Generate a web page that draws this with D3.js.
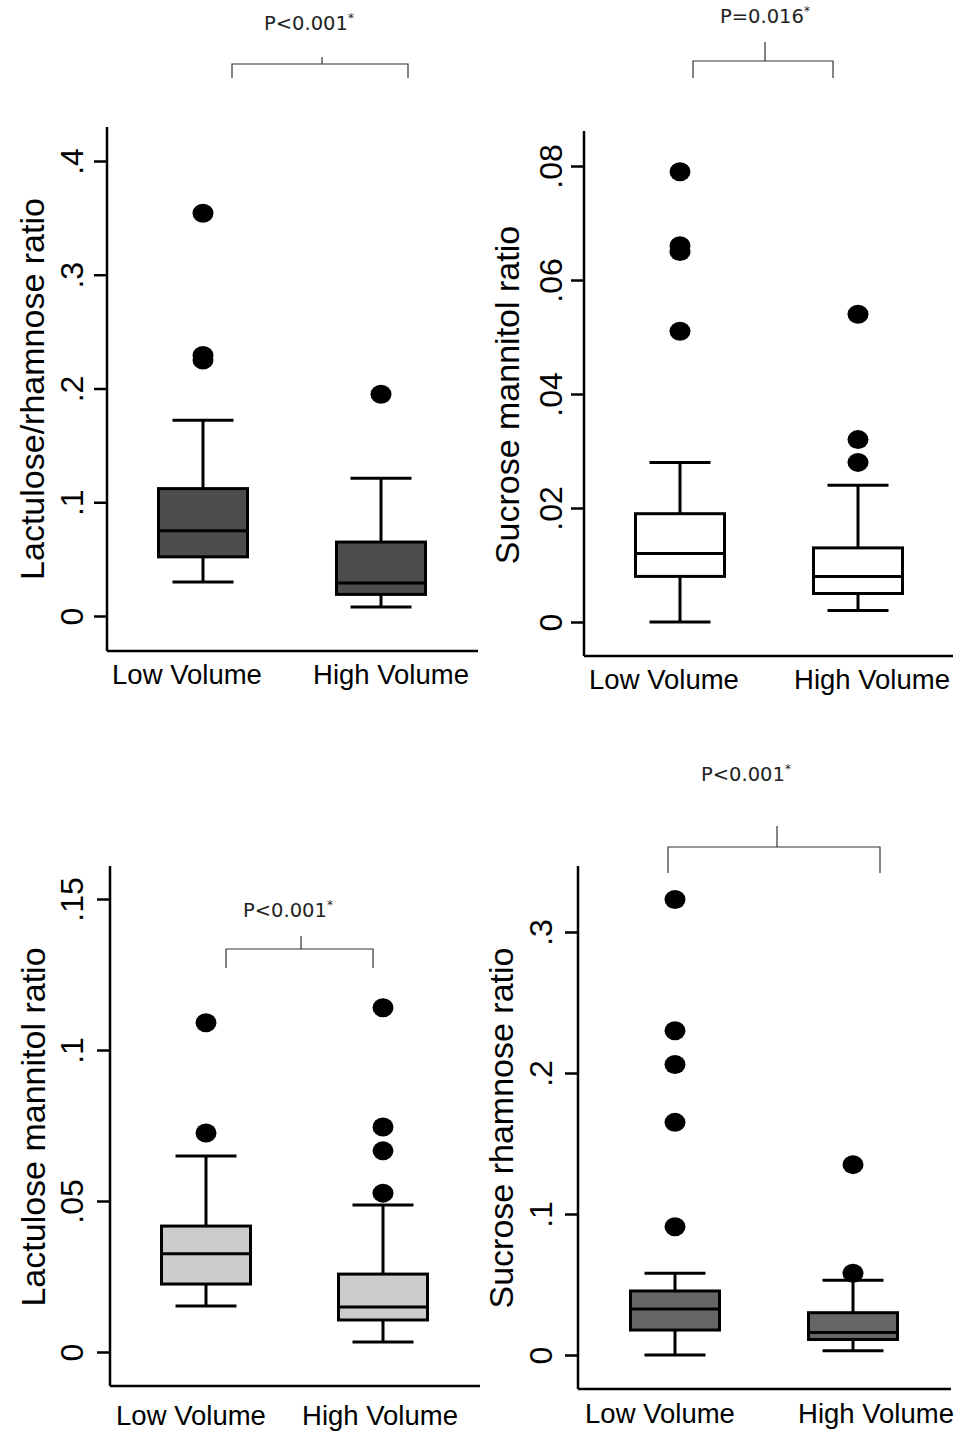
<!DOCTYPE html>
<html>
<head>
<meta charset="utf-8">
<script src="https://cdn.jsdelivr.net/npm/d3@7"></script>
<style>
  body { margin: 0; background: #fff; }
  svg { display: block; }
</style>
</head>
<body>
<div id="chart"></div>
<script>
// groups on the x axis
var groups = ["Low Volume", "High Volume"];

// box stats per group: [lower whisker, Q1, median, Q3, upper whisker]
var lrStats = [[0.030, 0.052, 0.075, 0.112, 0.172], [0.008, 0.019, 0.029, 0.065, 0.121]];
var lrOutliers = [[0.354, 0.229, 0.225], [0.195]];
var lrTicks = [0, 0.1, 0.2, 0.3, 0.4];
var lrTickLabels = ["0", ".1", ".2", ".3", ".4"];

var smStats = [[0.000, 0.008, 0.012, 0.019, 0.028], [0.002, 0.005, 0.008, 0.013, 0.024]];
var smOutliers = [[0.079, 0.066, 0.065, 0.051], [0.054, 0.032, 0.028]];
var smTicks = [0, 0.02, 0.04, 0.06, 0.08];
var smTickLabels = ["0", ".02", ".04", ".06", ".08"];

var lmStats = [[0.0152, 0.0225, 0.0325, 0.0417, 0.0649], [0.0033, 0.0106, 0.0149, 0.0258, 0.0487]];
var lmOutliers = [[0.109, 0.0725], [0.114, 0.0745, 0.0666, 0.0526]];
var lmTicks = [0, 0.05, 0.1, 0.15];
var lmTickLabels = ["0", ".05", ".1", ".15"];

var srStats = [[0.000, 0.0177, 0.0326, 0.0454, 0.058], [0.003, 0.011, 0.016, 0.030, 0.053]];
var srOutliers = [[0.323, 0.230, 0.206, 0.165, 0.091], [0.135, 0.058]];
var srTicks = [0, 0.1, 0.2, 0.3];
var srTickLabels = ["0", ".1", ".2", ".3"];

var titles = ["Lactulose/rhamnose ratio", "Sucrose mannitol ratio", "Lactulose mannitol ratio", "Sucrose rhamnose ratio"];
var pLabels = ["P<0.001", "P=0.016", "P<0.001", "P<0.001"];

var svgWidth = 967;
var svgHeight = 1433;

var svg = d3.select("#chart").append("svg")
  .attr("width", svgWidth)
  .attr("height", svgHeight);

// layout of each panel (pixels)
var panels = [
  { stats: lrStats, outliers: lrOutliers, ticks: lrTicks, tickLabels: lrTickLabels, fill: "#4d4d4d",
    axisX: 107, axisTop: 127, baseY: 651, right: 478, y0: 616, y1: 161, xLow: 203, xHigh: 381,
    labelDx: [-16, 10], labelY: 684, tickDx: -24, titleX: 44, titleY: 389,
    p: { tx: 264, ty: 30, left: 232, right: 408, barY: 64, dropY: 78, midX: 322, midTop: 57 } },
  { stats: smStats, outliers: smOutliers, ticks: smTicks, tickLabels: smTickLabels, fill: "#ffffff",
    axisX: 584, axisTop: 131, baseY: 656, right: 953, y0: 622, y1: 166, xLow: 680, xHigh: 858,
    labelDx: [-16, 14], labelY: 689, tickDx: -22, titleX: 519, titleY: 395,
    p: { tx: 720, ty: 23, left: 693, right: 833, barY: 61, dropY: 78, midX: 765, midTop: 42 } },
  { stats: lmStats, outliers: lmOutliers, ticks: lmTicks, tickLabels: lmTickLabels, fill: "#cccccc",
    axisX: 110, axisTop: 866, baseY: 1386, right: 480, y0: 1352, y1: 899, xLow: 206, xHigh: 383,
    labelDx: [-15, -3], labelY: 1425, tickDx: -27, titleX: 45, titleY: 1127,
    p: { tx: 243, ty: 917, left: 226, right: 373, barY: 949, dropY: 968, midX: 301, midTop: 936 } },
  { stats: srStats, outliers: srOutliers, ticks: srTicks, tickLabels: srTickLabels, fill: "#666666",
    axisX: 578, axisTop: 866, baseY: 1389, right: 951, y0: 1355, y1: 932, xLow: 675, xHigh: 853,
    labelDx: [-15, 23], labelY: 1423, tickDx: -26, titleX: 513, titleY: 1128,
    p: { tx: 701, ty: 781, left: 668, right: 880, barY: 847, dropY: 873, midX: 777, midTop: 826 } }
];

var boxWidth = 89;
var capWidth = 61;

panels.forEach(function(pn, i) {
  var g = svg.append("g");

  var y = d3.scaleLinear()
    .domain([0, d3.max(pn.ticks)])
    .range([pn.y0, pn.y1]);

  var x = d3.scalePoint()
    .domain(groups)
    .range([pn.xLow, pn.xHigh]);

  // y axis with rotated tick labels
  var leftAxis = d3.axisLeft(y)
    .tickValues(pn.ticks)
    .tickSize(13)
    .tickFormat(function(d, k) { return pn.tickLabels[k]; });

  var yAxis = g.append("g")
    .attr("transform", `translate(${pn.axisX}, 0)`)
    .call(leftAxis);
  yAxis.select(".domain").remove();
  yAxis.selectAll("line").attr("stroke", "#000").attr("stroke-width", 2.5);
  yAxis.selectAll("text")
    .attr("x", null)
    .attr("dy", null)
    .attr("transform", `translate(${pn.tickDx}, 0) rotate(-90)`)
    .attr("text-anchor", "middle")
    .attr("fill", "#000")
    .style("font-family", "'Liberation Sans', Arial, sans-serif")
    .style("font-size", "32px");

  // axis lines
  g.append("line")
    .attr("x1", pn.axisX).attr("x2", pn.axisX)
    .attr("y1", pn.axisTop).attr("y2", pn.baseY)
    .attr("stroke", "#000").attr("stroke-width", 2.5);
  g.append("line")
    .attr("x1", pn.axisX).attr("x2", pn.right)
    .attr("y1", pn.baseY).attr("y2", pn.baseY)
    .attr("stroke", "#000").attr("stroke-width", 2.5);

  // y title
  g.append("text")
    .attr("transform", `translate(${pn.titleX}, ${pn.titleY}) rotate(-90)`)
    .attr("text-anchor", "middle")
    .style("font-family", "'Liberation Sans', Arial, sans-serif")
    .style("font-size", "34px")
    .text(titles[i]);

  // x labels
  groups.forEach(function(name, k) {
    g.append("text")
      .attr("x", x(name) + pn.labelDx[k])
      .attr("y", pn.labelY)
      .attr("text-anchor", "middle")
      .style("font-family", "'Liberation Sans', Arial, sans-serif")
      .style("font-size", "27.5px")
      .text(name);
  });

  // boxes
  var box = g.selectAll(".box")
    .data(pn.stats)
    .enter()
    .append("g")
    .attr("class", "box");

  box.append("line")
    .attr("x1", (d, k) => x(groups[k])).attr("x2", (d, k) => x(groups[k]))
    .attr("y1", d => y(d[0])).attr("y2", d => y(d[4]))
    .attr("stroke", "#000").attr("stroke-width", 3);

  box.append("line")
    .attr("x1", (d, k) => x(groups[k]) - capWidth / 2).attr("x2", (d, k) => x(groups[k]) + capWidth / 2)
    .attr("y1", d => y(d[0])).attr("y2", d => y(d[0]))
    .attr("stroke", "#000").attr("stroke-width", 3);

  box.append("line")
    .attr("x1", (d, k) => x(groups[k]) - capWidth / 2).attr("x2", (d, k) => x(groups[k]) + capWidth / 2)
    .attr("y1", d => y(d[4])).attr("y2", d => y(d[4]))
    .attr("stroke", "#000").attr("stroke-width", 3);

  box.append("rect")
    .attr("x", (d, k) => x(groups[k]) - boxWidth / 2)
    .attr("width", boxWidth)
    .attr("y", d => y(d[3]))
    .attr("height", d => y(d[1]) - y(d[3]))
    .attr("fill", pn.fill)
    .attr("stroke", "#000").attr("stroke-width", 3);

  box.append("line")
    .attr("x1", (d, k) => x(groups[k]) - boxWidth / 2).attr("x2", (d, k) => x(groups[k]) + boxWidth / 2)
    .attr("y1", d => y(d[2])).attr("y2", d => y(d[2]))
    .attr("stroke", "#000").attr("stroke-width", 3);

  // outliers
  pn.outliers.forEach(function(vals, k) {
    g.selectAll(".out" + k)
      .data(vals)
      .enter()
      .append("ellipse")
      .attr("cx", x(groups[k]))
      .attr("cy", d => y(d))
      .attr("rx", 10.5)
      .attr("ry", 9.5)
      .attr("fill", "#000");
  });

  // p-value bracket
  var p = pn.p;
  g.append("path")
    .attr("d", `M${p.left},${p.dropY}V${p.barY}H${p.right}V${p.dropY}M${p.midX},${p.barY}V${p.midTop}`)
    .attr("fill", "none")
    .attr("stroke", "#333")
    .attr("stroke-width", 1.2);

  var pt = g.append("text")
    .attr("x", p.tx)
    .attr("y", p.ty)
    .style("font-family", "'DejaVu Sans', Verdana, sans-serif")
    .style("font-size", "19.5px")
    .attr("fill", "#222")
    .text(pLabels[i]);
  pt.append("tspan")
    .attr("dy", -8)
    .style("font-size", "12px")
    .text("*");
});
</script>
</body>
</html>
